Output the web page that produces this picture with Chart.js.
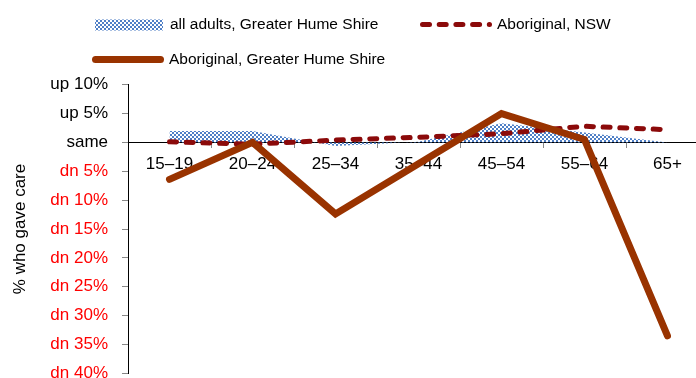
<!DOCTYPE html>
<html>
<head>
<meta charset="utf-8">
<script src="https://cdn.jsdelivr.net/npm/chart.js@4/dist/chart.umd.min.js"></script>
<style>
    html, body { margin: 0; padding: 0; overflow: hidden; background: #fff; }
    #wrap { position: relative; width: 709px; height: 378px; }
</style>
</head>
<body>
<div id="wrap"><canvas id="care"></canvas></div>
<script>
// change in % who gave care, by age group
const ageGroups = ['15–19', '20–24', '25–34', '35–44', '45–54', '55–64', '65+'];
const allAdultsGHS = [2.0, 2.0, -0.6, 0.1, 3.3, 1.7, 0.0];
const aboriginalNSW = [0.1, -0.3, 0.4, 0.9, 1.5, 2.8, 2.2];
const aboriginalGHS = [-6.4, 0.0, -12.4, -3.7, 5.0, 0.5, -33.5];
const yTickLabels = ['up 10%', 'up 5%', 'same', 'dn 5%', 'dn 10%', 'dn 15%', 'dn 20%',
    'dn 25%', 'dn 30%', 'dn 35%', 'dn 40%'];

Chart.defaults.font.family = "'Liberation Sans', Arial, sans-serif";
Chart.defaults.color = '#000';

// small blue checkerboard used for the all adults area
function checkerPattern(color) {
    const c = document.createElement('canvas');
    c.width = 4;
    c.height = 4;
    const g = c.getContext('2d');
    g.fillStyle = color;
    g.fillRect(0, 0, 2, 2);
    g.fillRect(2, 2, 2, 2);
    return g.createPattern(c, 'repeat');
}
const areaFill = checkerPattern('#4f7fc6');

// legend laid out in two rows, second row lined up under the first
const legendRows = {
    id: 'legendRows',
    afterDraw(chart) {
        const ctx = chart.ctx;
        const ds = chart.data.datasets;
        const items = [
            {x: 95, y: 25, ds: ds[0], text: 492 - 322},
            {x: 420, y: 24.5, ds: ds[1]},
            {x: 92, y: 59.5, ds: ds[2]},
        ];
        ctx.save();
        ctx.font = "15.5px 'Liberation Sans', Arial, sans-serif";
        ctx.textBaseline = 'middle';
        items.forEach((it) => {
            const d = it.ds;
            if (d.fill) {
                ctx.fillStyle = d.backgroundColor;
                ctx.fillRect(it.x, it.y - 5.5, 68, 11);
            } else {
                ctx.beginPath();
                ctx.strokeStyle = d.borderColor;
                ctx.lineWidth = d.borderWidth;
                ctx.lineCap = d.borderCapStyle || 'butt';
                ctx.setLineDash(d.borderDash || []);
                const inset = d.borderCapStyle === 'round' ? d.borderWidth / 2 : 0;
                ctx.moveTo(it.x + inset, it.y);
                ctx.lineTo(it.x + 72 - inset, it.y);
                ctx.stroke();
                ctx.setLineDash([]);
            }
            ctx.fillStyle = '#000';
            ctx.fillText(d.label, it.x + (d.fill ? 75 : 77), it.y);
        });
        ctx.restore();
    },
};

new Chart(document.getElementById('care'), {
    type: 'line',
    data: {
        labels: ageGroups,
        datasets: [
            {
                label: 'all adults, Greater Hume Shire',
                data: allAdultsGHS,
                fill: 'origin',
                backgroundColor: areaFill,
                borderWidth: 0,
                pointRadius: 0,
                order: 3,
            },
            {
                label: 'Aboriginal, NSW',
                data: aboriginalNSW,
                borderColor: '#8b0a0a',
                borderWidth: 5,
                borderDash: [7, 9.7],
                borderCapStyle: 'round',
                pointRadius: 0,
                fill: false,
                order: 2,
            },
            {
                label: 'Aboriginal, Greater Hume Shire',
                data: aboriginalGHS,
                borderColor: '#993300',
                borderWidth: 7,
                borderCapStyle: 'round',
                borderJoinStyle: 'miter',
                pointRadius: 0,
                fill: false,
                order: 1,
            },
        ],
    },
    options: {
        responsive: true,
        maintainAspectRatio: false,
        animation: false,
        layout: {
            padding: {top: 84.7, bottom: 4.7, left: 0, right: 0},
        },
        plugins: {
            legend: {display: false},
            tooltip: {enabled: false},
        },
        scales: {
            x: {
                type: 'category',
                position: {y: 0},
                offset: true,
                grid: {
                    offset: true,
                    drawOnChartArea: false,
                    tickLength: 5,
                    color: '#888',
                },
                border: {color: '#000', width: 1},
                ticks: {
                    padding: 7,
                    font: {size: 17},
                    color: '#000',
                    maxRotation: 0,
                },
            },
            y: {
                min: -40,
                max: 10,
                ticks: {
                    stepSize: 5,
                    padding: 14,
                    font: {size: 17},
                    callback: (v) => yTickLabels[Math.round((10 - v) / 5)],
                    color: (c) => (c.tick && c.tick.value < 0 ? '#ff0000' : '#000'),
                },
                grid: {
                    drawOnChartArea: false,
                    tickLength: 6,
                    color: '#888',
                },
                border: {color: '#000', width: 1},
                title: {
                    display: true,
                    text: '% who gave care',
                    font: {size: 17},
                    color: '#000',
                    padding: {top: 10, bottom: 0},
                },
                afterFit: (scale) => {
                    scale.width = 128;
                    scale.paddingTop = 0;
                    scale.paddingBottom = 0;
                },
            },
        },
    },
    plugins: [legendRows],
});
</script>
</body>
</html>
